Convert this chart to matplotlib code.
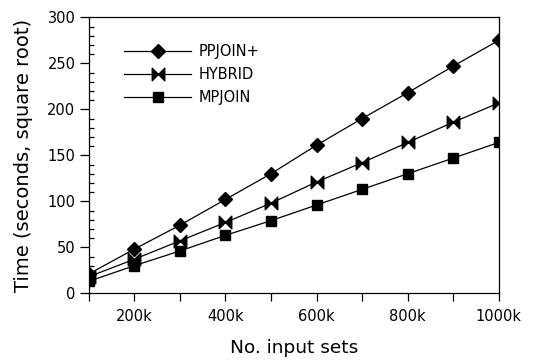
import matplotlib
matplotlib.use("Agg")
import matplotlib.pyplot as plt
from matplotlib.ticker import MultipleLocator, FuncFormatter
from matplotlib.path import Path

x_sets = [100000, 200000, 300000, 400000, 500000, 600000, 700000, 800000, 900000, 1000000]
ppjoin = [21, 48, 74, 102, 130, 161, 190, 218, 247, 275]
hybrid = [18, 37, 57, 77, 98, 121, 142, 164, 186, 207]
mpjoin = [13, 30, 46, 63, 79, 96, 113, 130, 147, 164]
series_names = ["PPJOIN+", "HYBRID", "MPJOIN"]

plt.rcParams['font.family'] = ['DejaVu Sans']

fig = plt.figure(figsize=(5.44, 3.61), dpi=100)
ax = fig.add_axes([0.163, 0.1875, 0.754, 0.7645])

bowtie = Path([(-1, 1), (1, -1), (1, 1), (-1, -1), (-1, 1)],
              [Path.MOVETO, Path.LINETO, Path.LINETO, Path.LINETO, Path.CLOSEPOLY])

ax.plot(x_sets, ppjoin, color='black', lw=0.9, marker='D', ms=7.5, label=series_names[0])
ax.plot(x_sets, hybrid, color='black', lw=0.9, marker=bowtie, ms=9, label=series_names[1])
ax.plot(x_sets, mpjoin, color='black', lw=0.9, marker='s', ms=7.5, label=series_names[2])

ax.set_xlim(100000, 1000000)
ax.set_ylim(0, 300)

ax.xaxis.set_major_locator(MultipleLocator(200000))
ax.xaxis.set_minor_locator(MultipleLocator(100000))
ax.xaxis.set_major_formatter(FuncFormatter(lambda v, p: f"{int(round(v/1000))}k"))
ax.yaxis.set_major_locator(MultipleLocator(50))
ax.yaxis.set_minor_locator(MultipleLocator(10))

ax.tick_params(axis='x', which='both', direction='out', length=6, width=0.9, labelsize=10.5, pad=5)
ax.tick_params(axis='y', which='major', direction='out', length=6.5, width=0.9, labelsize=10.5, pad=3)
ax.tick_params(axis='y', which='minor', direction='in', length=3.5, width=0.9)

for s in ax.spines.values():
    s.set_linewidth(0.9)

ax.set_xlabel("No. input sets", fontsize=13.3, labelpad=11)
ax.set_ylabel("Time (seconds, square root)", fontsize=14, labelpad=10)

leg = ax.legend(loc='upper left', bbox_to_anchor=(0.055, 0.95), frameon=False,
                handlelength=4.6, handletextpad=0.5, labelspacing=0.55, fontsize=10.5)

fig.savefig("out.png", dpi=100)
